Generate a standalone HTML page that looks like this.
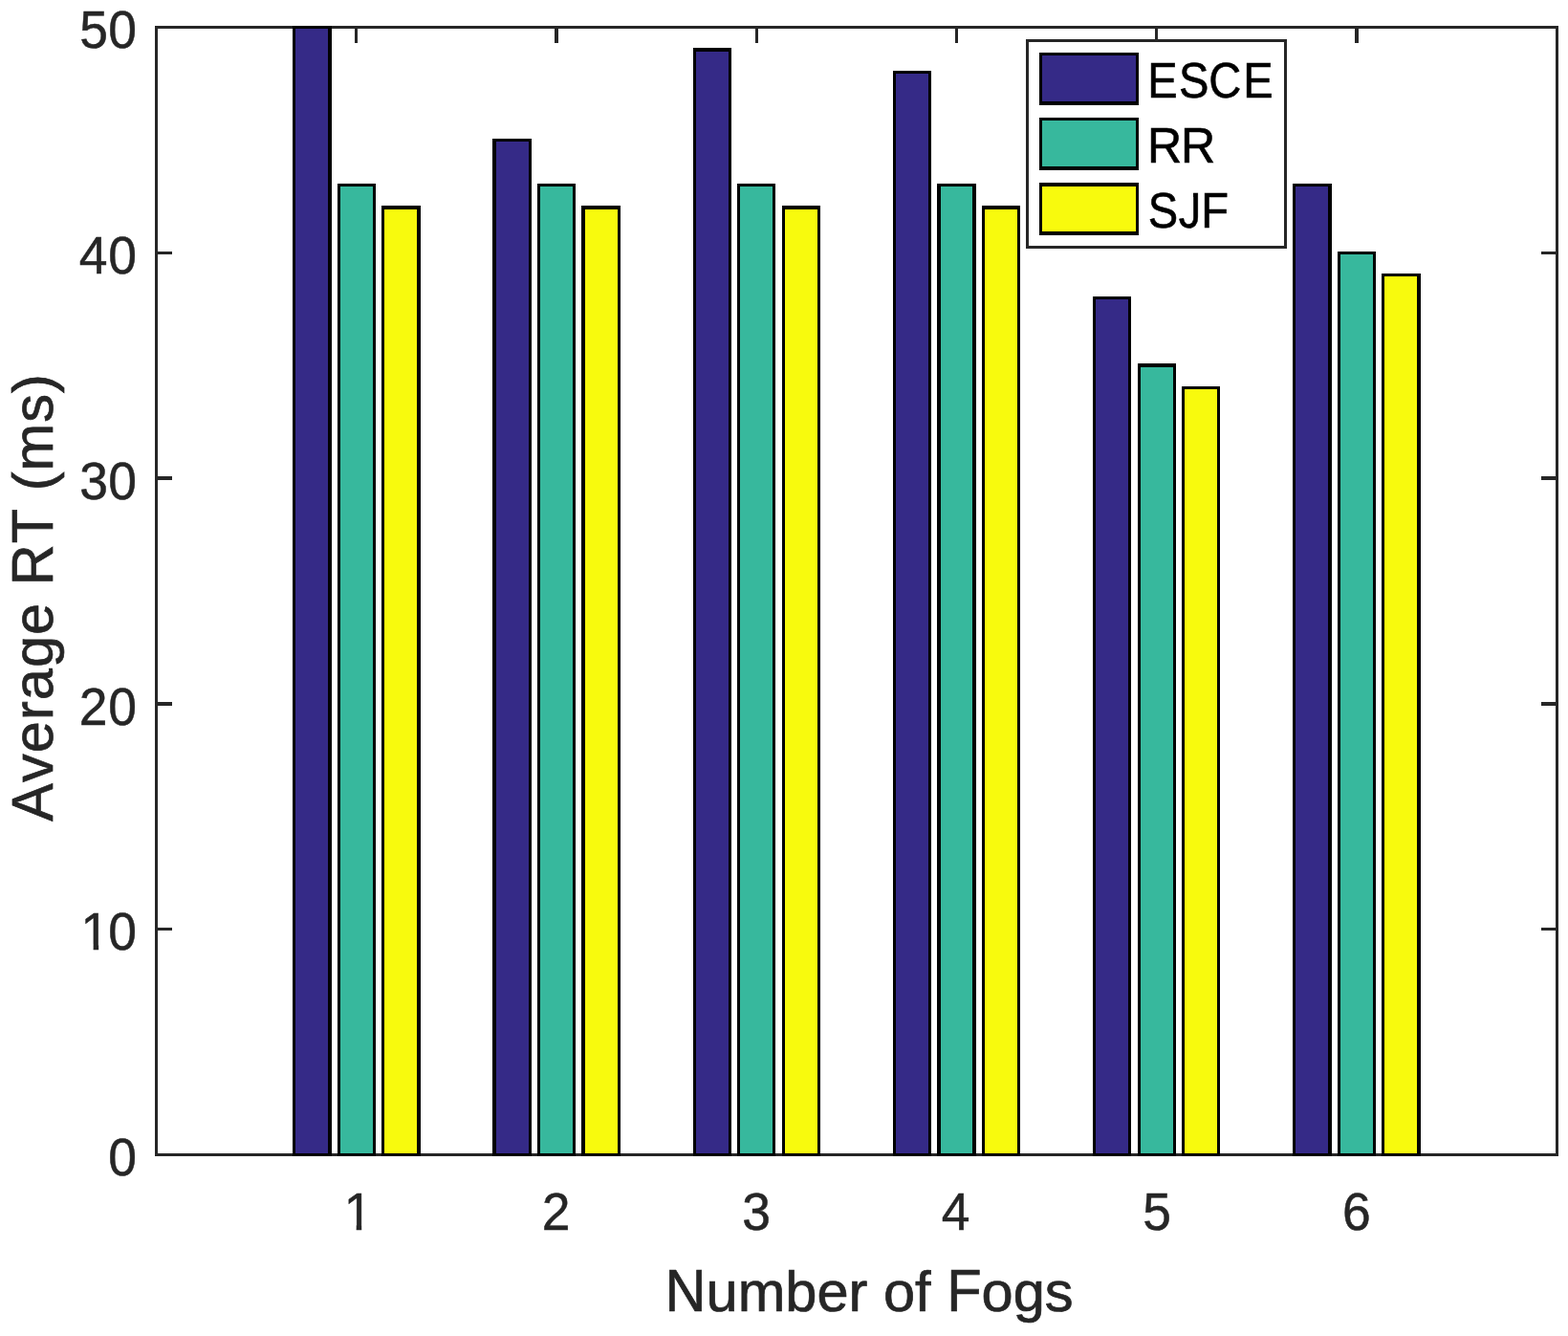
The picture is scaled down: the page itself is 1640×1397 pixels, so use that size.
<!DOCTYPE html>
<html lang="en">
<head>
<meta charset="utf-8">
<title>Average RT (ms) by Number of Fogs</title>
<style>
html,body{margin:0;padding:0;background:#ffffff;}
body{width:1640px;height:1397px;overflow:hidden;}
svg{display:block;}
text{font-family:"Liberation Sans",sans-serif;font-kerning:none;white-space:pre;}
.tk{font-size:55.3px;fill:#262626;stroke:#262626;stroke-width:0.5;}
.lb{fill:#262626;stroke:#262626;stroke-width:0.7;}
.lg{font-size:51.45px;fill:#000;stroke:#000;stroke-width:0.6;}
</style>
</head>
<body>
<svg width="1640" height="1397" viewBox="0 0 1640 1397">
<rect x="0" y="0" width="1640" height="1397" fill="#ffffff"/>
<g fill="#262626" shape-rendering="crispEdges">
<rect x="162" y="27" width="1468" height="3"/>
<rect x="162" y="1206" width="1468" height="3"/>
<rect x="162" y="27" width="3" height="1182"/>
<rect x="1627" y="27" width="3" height="1182"/>
<rect x="165" y="263" width="15" height="3"/>
<rect x="1612" y="263" width="15" height="3"/>
<rect x="165" y="498" width="15" height="4"/>
<rect x="1612" y="498" width="15" height="4"/>
<rect x="165" y="734" width="15" height="4"/>
<rect x="1612" y="734" width="15" height="4"/>
<rect x="165" y="970" width="15" height="3"/>
<rect x="1612" y="970" width="15" height="3"/>
<rect x="371" y="30" width="3" height="15"/>
<rect x="580" y="30" width="4" height="15"/>
<rect x="790" y="30" width="3" height="15"/>
<rect x="999" y="30" width="3" height="15"/>
<rect x="1208" y="30" width="3" height="15"/>
<rect x="1417" y="30" width="4" height="15"/>
</g>
<g shape-rendering="crispEdges">
<rect x="306" y="27" width="41" height="1182" fill="#000000"/>
<rect x="309" y="30" width="34" height="1176" fill="#352a87"/>
<rect x="353" y="192" width="40" height="1017" fill="#000000"/>
<rect x="356" y="195" width="34" height="1011" fill="#37b89d"/>
<rect x="399" y="215" width="41" height="994" fill="#000000"/>
<rect x="402" y="219" width="34" height="987" fill="#f8fa0d"/>
<rect x="515" y="145" width="41" height="1064" fill="#000000"/>
<rect x="519" y="148" width="34" height="1058" fill="#352a87"/>
<rect x="562" y="192" width="40" height="1017" fill="#000000"/>
<rect x="565" y="195" width="34" height="1011" fill="#37b89d"/>
<rect x="608" y="215" width="41" height="994" fill="#000000"/>
<rect x="612" y="219" width="34" height="987" fill="#f8fa0d"/>
<rect x="725" y="50" width="40" height="1159" fill="#000000"/>
<rect x="728" y="54" width="34" height="1152" fill="#352a87"/>
<rect x="771" y="192" width="40" height="1017" fill="#000000"/>
<rect x="774" y="195" width="34" height="1011" fill="#37b89d"/>
<rect x="818" y="215" width="40" height="994" fill="#000000"/>
<rect x="821" y="219" width="34" height="987" fill="#f8fa0d"/>
<rect x="934" y="74" width="40" height="1135" fill="#000000"/>
<rect x="937" y="77" width="34" height="1129" fill="#352a87"/>
<rect x="980" y="192" width="41" height="1017" fill="#000000"/>
<rect x="984" y="195" width="33" height="1011" fill="#37b89d"/>
<rect x="1027" y="215" width="40" height="994" fill="#000000"/>
<rect x="1030" y="219" width="34" height="987" fill="#f8fa0d"/>
<rect x="1143" y="310" width="40" height="899" fill="#000000"/>
<rect x="1146" y="313" width="34" height="893" fill="#352a87"/>
<rect x="1190" y="380" width="40" height="829" fill="#000000"/>
<rect x="1193" y="384" width="34" height="822" fill="#37b89d"/>
<rect x="1236" y="404" width="40" height="805" fill="#000000"/>
<rect x="1239" y="407" width="34" height="799" fill="#f8fa0d"/>
<rect x="1352" y="192" width="41" height="1017" fill="#000000"/>
<rect x="1355" y="195" width="34" height="1011" fill="#352a87"/>
<rect x="1399" y="263" width="40" height="946" fill="#000000"/>
<rect x="1402" y="266" width="34" height="940" fill="#37b89d"/>
<rect x="1445" y="286" width="41" height="923" fill="#000000"/>
<rect x="1448" y="289" width="34" height="917" fill="#f8fa0d"/>
</g>
<g shape-rendering="crispEdges">
<rect x="1073" y="41" width="273" height="219" fill="#262626"/>
<rect x="1076" y="44" width="267" height="213" fill="#ffffff"/>
<rect x="1087" y="55" width="104" height="55" fill="#000000"/>
<rect x="1090" y="58" width="98" height="48" fill="#352a87"/>
<rect x="1087" y="123" width="104" height="55" fill="#000000"/>
<rect x="1090" y="126" width="98" height="48" fill="#37b89d"/>
<rect x="1087" y="191" width="104" height="55" fill="#000000"/>
<rect x="1090" y="195" width="98" height="47" fill="#f8fa0d"/>
</g>
<defs>
<clipPath id="c10" clipPathUnits="userSpaceOnUse"><rect x="0.00" y="-60.00" width="1760.75" height="54.46"/><rect x="101.14" y="-10.00" width="5.70" height="20.00"/><rect x="117.80" y="-10.00" width="32.32" height="20.00"/></clipPath>
<clipPath id="c1" clipPathUnits="userSpaceOnUse"><rect x="0.00" y="-60.00" width="1760.75" height="54.46"/><rect x="386.02" y="-10.00" width="5.70" height="20.00"/></clipPath>
</defs>
<text class="tk" transform="translate(0 50.10) scale(0.9655 1)" x="86.18 117.30" y="0">50</text>
<text class="tk" transform="translate(0 286.20) scale(0.9655 1)" x="85.68 117.30" y="0">40</text>
<text class="tk" transform="translate(0 522.10) scale(0.9655 1)" x="86.29 117.30" y="0">30</text>
<text class="tk" transform="translate(0 758.20) scale(0.9655 1)" x="85.61 117.30" y="0">20</text>
<text class="tk" transform="translate(0 993.40) scale(0.9655 1)" x="87.64 117.30" y="0" clip-path="url(#c10)">10</text>
<text class="tk" transform="translate(0 1229.10) scale(0.9655 1)" x="117.30" y="0">0</text>
<text class="tk" transform="translate(0 1286.25) scale(0.9655 1)" x="372.52" y="0" clip-path="url(#c1)">1</text>
<text class="tk" transform="translate(0 1286.25) scale(0.9655 1)" x="586.90" y="0">2</text>
<text class="tk" transform="translate(0 1286.25) scale(0.9655 1)" x="804.03" y="0">3</text>
<text class="tk" transform="translate(0 1286.25) scale(0.9655 1)" x="1020.01" y="0">4</text>
<text class="tk" transform="translate(0 1286.25) scale(0.9655 1)" x="1237.91" y="0">5</text>
<text class="tk" transform="translate(0 1286.25) scale(0.9655 1)" x="1454.14" y="0">6</text>
<text class="lg" transform="translate(0 101.70) scale(0.915 1)" x="1311.78 1347.44 1381.70 1421.07" y="0">ESCE</text>
<text class="lg" transform="translate(0 169.70) scale(0.975 1)" x="1230.82 1266.75" y="0">RR</text>
<defs><clipPath id="cj" clipPathUnits="userSpaceOnUse"><rect x="0.00" y="-60" width="1356.32" height="80"/><rect x="1356.32" y="-30.48" width="7.66" height="50.48"/><rect x="1363.97" y="-60" width="437.16" height="80"/></clipPath>
</defs>
<text class="lg" transform="translate(0 237.70) scale(0.915 1)" x="1312.36 1347.30 1373.08" y="0" clip-path="url(#cj)">SJF</text>
<text class="lb" font-size="59.2" transform="translate(0 1371.45) scale(1.0063 1)" x="691.17 733.92 766.85 816.16 849.09 882.01 901.72 918.17 951.10 967.54 983.99 1020.15 1053.08 1086.00" y="0"><tspan font-size="62.4" textLength="42.75" lengthAdjust="spacingAndGlyphs">N</tspan>umber of <tspan font-size="62.4" textLength="36.16" lengthAdjust="spacingAndGlyphs">F</tspan>ogs</text>
<text class="lb" font-size="58.3" transform="translate(55.35 858.90) rotate(-90) scale(1.0218 1)" x="0.24 40.10 70.23 103.63 124.02 157.43 190.83 224.23 241.41 284.49 321.08 338.26 358.65 408.19 438.32" y="0"><tspan font-size="61.0" textLength="38.89" lengthAdjust="spacingAndGlyphs">A</tspan>verage <tspan font-size="61.0" textLength="42.10" lengthAdjust="spacingAndGlyphs">R</tspan><tspan font-size="61.0" textLength="35.61" lengthAdjust="spacingAndGlyphs">T</tspan> (ms)</text>
</svg>
</body>
</html>
